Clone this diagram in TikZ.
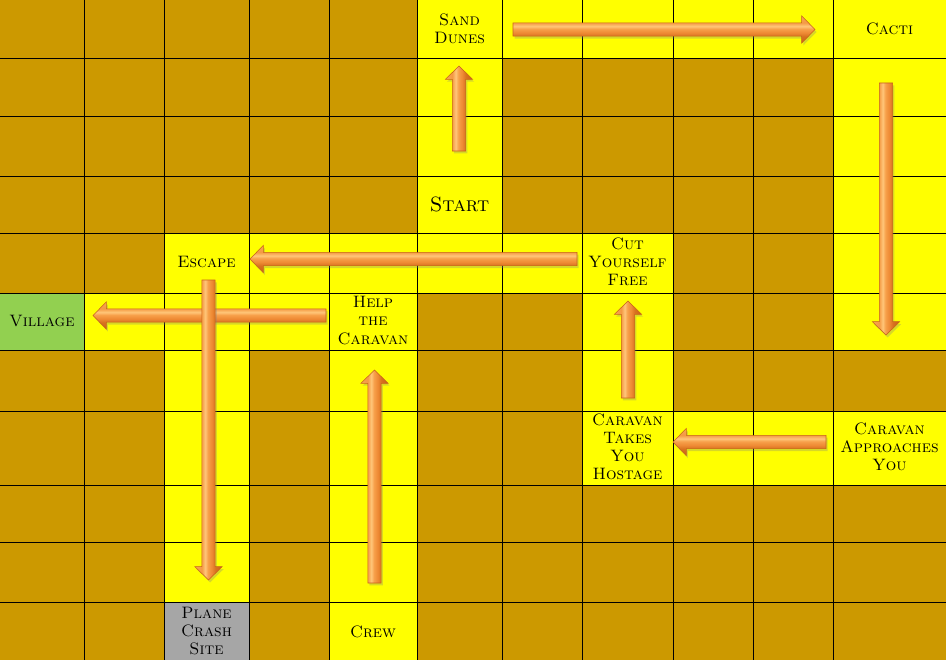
\documentclass[tikz,border=0pt]{standalone}
\usetikzlibrary{calc,shadows}
\definecolor{cellbrown}{HTML}{CC9900}
\definecolor{cellyellow}{HTML}{FFFF00}
\definecolor{cellgreen}{HTML}{92D050}
\definecolor{cellgray}{HTML}{A6A6A6}
\definecolor{arrA}{HTML}{C8601A}
\definecolor{arrB}{HTML}{D8721F}
\definecolor{arrC}{HTML}{EE8A34}
\definecolor{arrD}{HTML}{F7A04A}
\definecolor{arrE}{HTML}{FFC679}
\definecolor{arrF}{HTML}{F49A44}
\definecolor{arrG}{HTML}{F6A553}
\definecolor{arredge}{HTML}{C8621A}
\pgfdeclareverticalshading{arrV}{100bp}{color(0bp)=(arrA); color(25bp)=(arrA); color(37.5bp)=(arrB); color(44bp)=(arrC); color(51bp)=(arrD); color(56bp)=(arrE); color(62.5bp)=(arrF); color(75bp)=(arrG); color(100bp)=(arrG)}
\pgfdeclarehorizontalshading{arrH}{100bp}{color(0bp)=(arrG); color(25bp)=(arrG); color(37.5bp)=(arrF); color(44bp)=(arrE); color(49bp)=(arrD); color(56bp)=(arrC); color(62.5bp)=(arrB); color(75bp)=(arrA); color(100bp)=(arrA)}
\def\XS{{0,84,164,249,329,417,502,582,673,753,833,946}}
\def\YS{{0,59,116,176,233,293,350,411,485,542,602,660}}
\begin{document}
\begin{tikzpicture}[x=0.75pt,y=-0.75pt,
  gridline/.style={draw=black,line width=0.75pt},
  lbl/.style={align=center,inner sep=0pt,text=black,font=\fontsize{12.4}{13.6}\selectfont\scshape},
  bigl/.style={align=center,inner sep=0pt,text=black,font=\fontsize{15.5}{17}\selectfont\scshape},
  blockarrow/.style={draw=arredge,line width=0.4pt,line join=miter,
    drop shadow={opacity=0.3,shadow xshift=1.2pt,shadow yshift=-1.8pt},
    to path={
      ($(\tikztotarget)!10pt!(\tikztostart)$) coordinate (bkH)
      ($(\tikztostart)!5pt!90:(\tikztotarget)$)
      -- ($(bkH)!5pt!90:(\tikztotarget)$)
      -- ($(bkH)!10.2pt!90:(\tikztotarget)$)
      -- (\tikztotarget)
      -- ($(bkH)!10.2pt!-90:(\tikztotarget)$)
      -- ($(bkH)!5pt!-90:(\tikztotarget)$)
      -- ($(\tikztostart)!5pt!-90:(\tikztotarget)$)
      -- cycle}},
  harrow/.style={blockarrow,shade,shading=arrV},
  varrow/.style={blockarrow,shade,shading=arrH}]
\useasboundingbox (0,0) rectangle (946,660);
\fill[cellbrown] (0,0) rectangle (946,660);
\foreach \c/\r/\cl in {5/0/cellyellow,6/0/cellyellow,7/0/cellyellow,8/0/cellyellow,9/0/cellyellow,10/0/cellyellow,
  5/1/cellyellow,10/1/cellyellow,5/2/cellyellow,10/2/cellyellow,5/3/cellyellow,10/3/cellyellow,
  2/4/cellyellow,3/4/cellyellow,4/4/cellyellow,5/4/cellyellow,6/4/cellyellow,7/4/cellyellow,10/4/cellyellow,
  0/5/cellgreen,1/5/cellyellow,2/5/cellyellow,3/5/cellyellow,4/5/cellyellow,7/5/cellyellow,10/5/cellyellow,
  2/6/cellyellow,4/6/cellyellow,7/6/cellyellow,
  2/7/cellyellow,4/7/cellyellow,7/7/cellyellow,8/7/cellyellow,9/7/cellyellow,10/7/cellyellow,
  2/8/cellyellow,4/8/cellyellow,2/9/cellyellow,4/9/cellyellow,2/10/cellgray,4/10/cellyellow}{
  \pgfmathsetmacro\xa{\XS[\c]}\pgfmathsetmacro\xb{\XS[\c+1]}
  \pgfmathsetmacro\ya{\YS[\r]}\pgfmathsetmacro\yb{\YS[\r+1]}
  \fill[\cl] (\xa,\ya) rectangle (\xb,\yb);
}
\foreach \x in {84,164,249,329,417,502,582,673,753,833} \draw[gridline] (\x,0) -- (\x,660);
\foreach \y in {59,116,176,233,293,350,411,485,542,602} \draw[gridline] (0,\y) -- (946,\y);
% labels
\node[lbl] (sand) at (459.5,28.5) {Sand\\Dunes};
\node[lbl] (cacti) at (889.5,29) {Cacti};
\node[bigl] (start) at (459.5,204) {Start};
\node[lbl] (escape) at (206.5,262) {Escape};
\node[lbl] (cut) at (627.5,262) {Cut\\Yourself\\Free};
\node[lbl] (village) at (42,321) {Village};
\node[lbl] (help) at (373,320.5) {Help\\the\\Caravan};
\node[lbl] (hostage) at (627.5,446.5) {Caravan\\Takes\\You\\Hostage};
\node[lbl] (approach) at (889.5,447) {Caravan\\Approaches\\You};
\node[lbl] (crash) at (206.5,631) {Plane\\Crash\\Site};
\node[lbl] (crew) at (373,632) {Crew};
% arrow end points
\coordinate (a1s) at (459,151); \coordinate (a1t) at (459,66);
\coordinate (a2s) at (513,29.5); \coordinate (a2t) at (815,29.5);
\coordinate (a3s) at (886,83); \coordinate (a3t) at (886,335);
\coordinate (a4s) at (826,442); \coordinate (a4t) at (673,442);
\coordinate (a5s) at (628,398); \coordinate (a5t) at (628,301);
\coordinate (a6s) at (577,259); \coordinate (a6t) at (250,259);
\coordinate (a7s) at (208.5,280); \coordinate (a7t) at (208.5,580);
\coordinate (a8s) at (374.5,583); \coordinate (a8t) at (374.5,370);
\coordinate (a9s) at (326,315.5); \coordinate (a9t) at (93,315.5);
\path[varrow] (a1s) to (a1t);
\path[harrow] (a2s) to (a2t);
\path[varrow] (a3s) to (a3t);
\path[harrow] (a4s) to (a4t);
\path[varrow] (a5s) to (a5t);
\path[harrow] (a6s) to (a6t);
\path[harrow] (a9s) to (a9t);
\path[varrow] (a7s) to (a7t);
\path[varrow] (a8s) to (a8t);
\end{tikzpicture}
\end{document}
